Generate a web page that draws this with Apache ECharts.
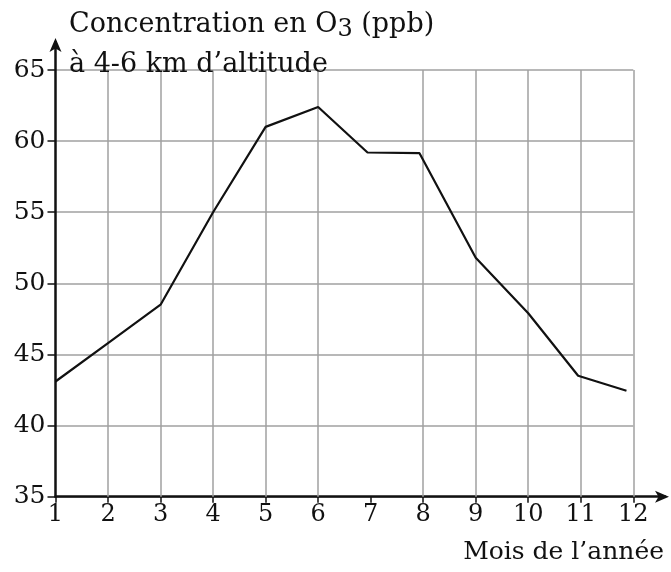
<!DOCTYPE html>
<html>
<head>
<meta charset="utf-8">
<script src="https://cdn.jsdelivr.net/npm/echarts@6/dist/echarts.min.js"></script>
<style>
  html, body { margin: 0; padding: 0; background: #fff; }
  #main { width: 671px; height: 572px; }
</style>
</head>
<body>
<div id="main"></div>
<script>
// mois et concentration en O3 (ppb)
const months = [1, 2, 3, 4, 5, 6, 6.94, 7.93, 9, 10, 10.95, 11.87];
const ozone = [43.1, 45.8, 48.5, 55, 61, 62.4, 59.2, 59.15, 51.8, 47.9, 43.5, 42.45];
const yTicks = [35, 40, 45, 50, 55, 60, 65];
// verticales du quadrillage (celle du mois 7 manque sur l'original)
const gridMonths = [2, 3, 4, 5, 6, 8, 9, 10, 11, 12];

const serif = '"DejaVu Serif", "Liberation Serif", serif';
const gridColor = '#a0a0a0';

const myChart = echarts.init(document.getElementById('main'));
const option = {
  animation: false,
  backgroundColor: '#fff',
  title: [
    {
      left: 64,
      top: 0,
      text: '{t|Concentration en O}{s|3}{t| (ppb)}\n{t|à 4-6 km d’altitude}',
      textStyle: {
        fontWeight: 'normal',
        rich: {
          t: { fontFamily: serif, fontSize: 27, fontWeight: 'normal', color: '#111', lineHeight: 40 },
          s: { fontFamily: serif, fontSize: 24, fontWeight: 'normal', color: '#111', lineHeight: 40, padding: [10, 0, 0, 0] }
        }
      }
    },
    {
      right: 2,
      bottom: 2,
      text: 'Mois de l’année',
      textStyle: { fontFamily: serif, fontSize: 25, fontWeight: 'normal', color: '#111' }
    }
  ],
  grid: [
    { left: 55.5, right: 37.7, top: 70, bottom: 75.3, containLabel: false, outerBoundsMode: 'none' },
    { left: 55.5, right: 6, top: 42, bottom: 75.3, containLabel: false, outerBoundsMode: 'none' }
  ],
  xAxis: [
    {
      gridIndex: 0,
      type: 'value',
      min: 1,
      max: 12,
      interval: 1,
      axisLine: { show: false },
      axisTick: { show: true, length: 6, lineStyle: { color: '#111', width: 1.5 } },
      axisLabel: { margin: 6, fontFamily: serif, fontSize: 24, color: '#111' },
      splitLine: { show: false }
    },
    {
      gridIndex: 1,
      type: 'value',
      min: 1,
      max: 12.6,
      axisLine: {
        show: true,
        symbol: ['none', 'arrow'],
        symbolSize: [9, 14],
        symbolOffset: [0, 4],
        lineStyle: { color: '#111', width: 2.5 }
      },
      axisTick: { show: false },
      axisLabel: { show: false },
      splitLine: { show: false }
    }
  ],
  yAxis: [
    {
      gridIndex: 0,
      type: 'value',
      min: yTicks[0],
      max: yTicks[yTicks.length - 1],
      interval: 5,
      axisLine: { show: false },
      axisTick: { show: true, length: 8, lineStyle: { color: '#111', width: 1.5 } },
      axisLabel: { margin: 10, fontFamily: serif, fontSize: 25, color: '#111' },
      splitLine: { show: true, lineStyle: { color: gridColor, width: 1.5 } }
    },
    {
      gridIndex: 1,
      type: 'value',
      min: 35,
      max: 67,
      axisLine: {
        show: true,
        symbol: ['none', 'arrow'],
        symbolSize: [9, 14],
        symbolOffset: [0, 4],
        lineStyle: { color: '#111', width: 2.5 }
      },
      axisTick: { show: false },
      axisLabel: { show: false },
      splitLine: { show: false }
    }
  ],
  series: [
    {
      // porte seulement les verticales du quadrillage
      type: 'line',
      xAxisIndex: 0,
      yAxisIndex: 0,
      data: [],
      silent: true,
      z: 1,
      markLine: {
        silent: true,
        symbol: 'none',
        label: { show: false },
        lineStyle: { color: gridColor, width: 1.5, type: 'solid' },
        data: gridMonths.map(m => ({ xAxis: m }))
      }
    },
    {
      type: 'line',
      xAxisIndex: 0,
      yAxisIndex: 0,
      data: months.map((m, i) => [m, ozone[i]]),
      symbol: 'none',
      lineStyle: { color: '#111', width: 2.2 },
      z: 5
    }
  ]
};
myChart.setOption(option);
</script>
</body>
</html>
